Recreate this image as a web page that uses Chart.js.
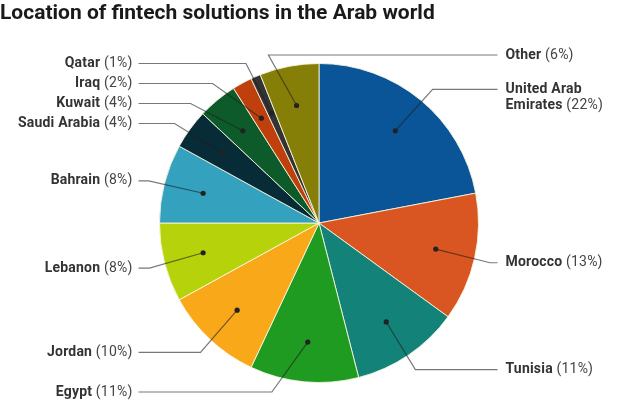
<!DOCTYPE html>
<html>
<head>
<meta charset="utf-8">
<script src="https://cdn.jsdelivr.net/npm/chart.js@4/dist/chart.umd.min.js"></script>
<style>
  body { margin: 0; background: #fff; }
  #wrap { width: 619px; height: 412px; }
</style>
</head>
<body>
<div id="wrap"><canvas id="pie" width="619" height="412"></canvas></div>
<script>
// data, clockwise from 12 o'clock
var countries = ["United Arab Emirates", "Morocco", "Tunisia", "Egypt", "Jordan", "Lebanon",
                 "Bahrain", "Saudi Arabia", "Kuwait", "Iraq", "Qatar", "Other"];
var shares = [22, 13, 11, 11, 10, 8, 8, 4, 4, 2, 1, 6];
var sliceColors = ["#0a5597", "#d95622", "#13837a", "#1f9b22", "#f9a81a", "#b6d20b",
                   "#34a2be", "#082b38", "#0d5a2a", "#c0400d", "#333333", "#857f08"];

var TITLE = "Location of fintech solutions in the Arab world";

var BOLD = 'bold 14px Roboto', NORMAL = '14px Roboto';

/* ------------------------------------------------------ */
var labelPlugin = {
  id: 'pieLabels',
  afterDraw: function(chart) {
    var ctx = chart.ctx;
    // title
    ctx.save();
    ctx.fillStyle = '#1a1a1a';
    ctx.font = 'bold 21px Roboto';
    ctx.textBaseline = 'middle';
    ctx.textAlign = 'left';
    ctx.fillText(TITLE, 0, 14);
    ctx.restore();

    var arcs = chart.getDatasetMeta(0).data;
    var items = [];
    arcs.forEach(function(arc, i) {
      var p = arc.getProps(['x', 'y', 'startAngle', 'endAngle', 'outerRadius'], true);
      var a = (p.startAngle + p.endAngle) / 2;
      var R = p.outerRadius;
      var c = Math.cos(a), s = Math.sin(a);
      items.push({
        i: i, cx: p.x, cy: p.y, R: R,
        dx: p.x + c * R * 0.75,
        dy: p.y + s * R * 0.75,
        // labels near the top may sit on the right
        right: c >= 0 || (s < 0 && c > -0.25),
        y: p.y + s * R * 1.1 + 1.5
      });
    });

    var cx = items[0].cx, cy = items[0].cy, R = items[0].R;
    var kneeR = R * 1.1;
    var leftEnd = cx - R - 21, rightEnd = cx + R + 19;
    var lineH = 16;

    ctx.save();
    ctx.letterSpacing = '0.2px';
    // wrap text into lines
    items.forEach(function(it) {
      var name = countries[it.i], pct = ' (' + shares[it.i] + '%)';
      var maxW = it.right ? chart.width - (rightEnd + 8) - 4 : leftEnd - 8;
      var words = name.split(' ');
      var lines = [], cur = '';
      words.forEach(function(w, k) {
        var test = cur ? cur + ' ' + w : w;
        ctx.font = BOLD;
        var wB = ctx.measureText(test).width;
        ctx.font = NORMAL;
        var extra = (k === words.length - 1) ? ctx.measureText(pct).width : 0;
        if (cur && wB + extra > maxW) { lines.push(cur); cur = w; } else { cur = test; }
      });
      lines.push(cur);
      it.lines = lines;
      it.pct = pct;
      it.h = lines.length * lineH;
    });

    // push labels apart on each side
    [true, false].forEach(function(side) {
      var list = items.filter(function(it) { return it.right === side; })
                      .sort(function(a, b) { return a.y - b.y; });
      list.forEach(function(it) { it.y = Math.max(55, Math.min(392, it.y)); });
      for (var k = 1; k < list.length; k++) {
        var prev = list[k - 1];
        var minY = prev.y + (prev.h - lineH) + 20;
        if (list[k].y < minY) list[k].y = minY;
      }
    });

    items.forEach(function(it) {
      var ddy = it.y - cy;
      var kx = Math.abs(ddy) < kneeR ? Math.sqrt(kneeR * kneeR - ddy * ddy) : 0;
      var kneeX = (it.dx >= cx) ? cx + kx : cx - kx;
      var endX = it.right ? rightEnd : leftEnd;

      ctx.strokeStyle = 'rgba(30,30,30,0.6)';
      ctx.lineWidth = 1.2;
      ctx.beginPath();
      ctx.moveTo(it.dx, it.dy);
      ctx.lineTo(kneeX, it.y);
      ctx.lineTo(endX, it.y);
      ctx.stroke();

      ctx.fillStyle = '#222';
      ctx.beginPath();
      ctx.arc(it.dx, it.dy, 2.6, 0, Math.PI * 2);
      ctx.fill();

      ctx.textBaseline = 'middle';
      it.lines.forEach(function(line, n) {
        var ly = it.y + n * lineH;
        var last = n === it.lines.length - 1;
        ctx.font = BOLD;
        var wB = ctx.measureText(line).width;
        ctx.font = NORMAL;
        var wP = last ? ctx.measureText(it.pct).width : 0;
        var x0 = it.right ? rightEnd + 8 : leftEnd - 6 - wB - wP;
        ctx.textAlign = 'left';
        ctx.fillStyle = '#333';
        ctx.font = BOLD;
        ctx.fillText(line, x0, ly);
        if (last) {
          ctx.fillStyle = '#444';
          ctx.font = NORMAL;
          ctx.fillText(it.pct, x0 + wB, ly);
        }
      });
    });
    ctx.restore();
  }
};

/* ------------------------------------------------------ */
window.myChart = new Chart(document.getElementById('pie'), {
  type: 'pie',
  data: {
    labels: countries,
    datasets: [{
      data: shares,
      backgroundColor: sliceColors,
      borderColor: 'rgba(250,248,225,0.85)',
      borderWidth: 1
    }]
  },
  options: {
    responsive: false,
    animation: false,
    events: [],
    layout: { padding: { top: 63, bottom: 29, left: 159, right: 140 } },
    plugins: {
      legend: { display: false },
      tooltip: { enabled: false },
      title: { display: false }
    }
  },
  plugins: [labelPlugin]
});
</script>
</body>
</html>
